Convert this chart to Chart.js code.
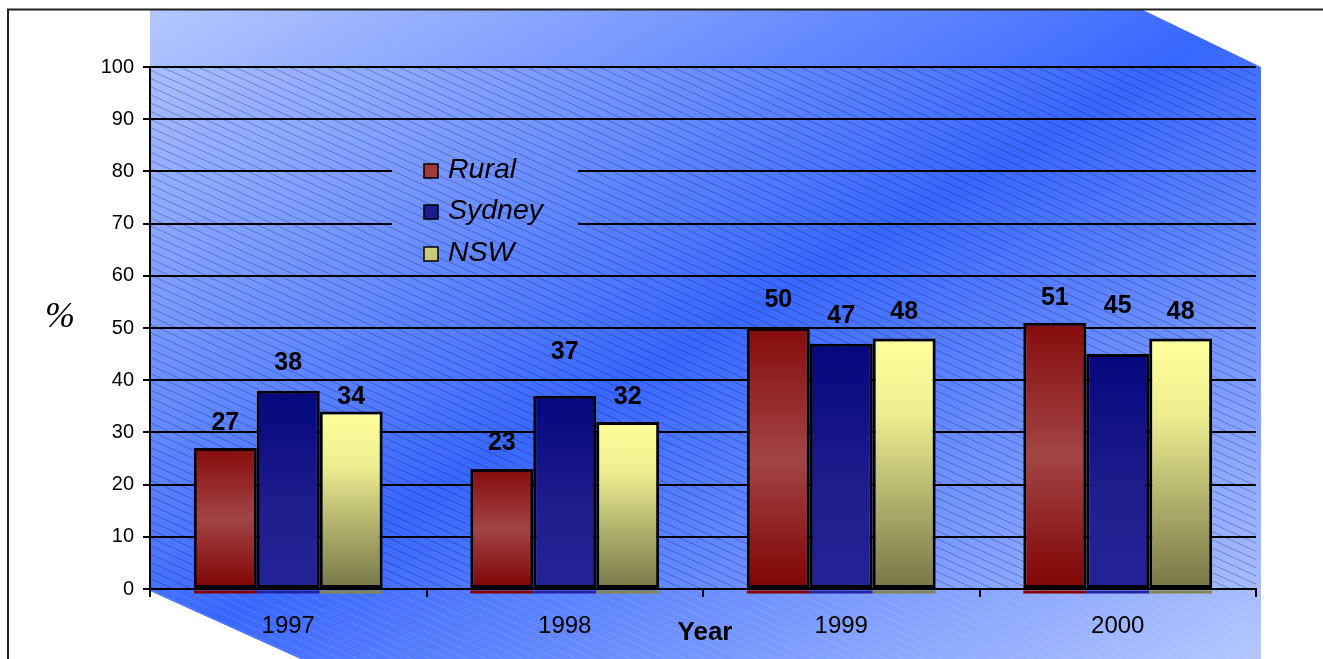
<!DOCTYPE html>
<html><head><meta charset="utf-8">
<script src="https://cdn.jsdelivr.net/npm/chart.js@4.4.1/dist/chart.umd.min.js"></script>
<style>html,body{margin:0;padding:0;background:#fff;}#wrap{width:1323px;height:659px;position:relative;overflow:hidden;}</style>
</head><body><div id="wrap"><canvas id="c" width="1323" height="659"></canvas></div>
<script>
// ---- data ----
const categories = ['1997', '1998', '1999', '2000'];
const seriesNames = ['Rural', 'Sydney', 'NSW'];
const rural  = [27, 23, 50, 51];
const sydney = [38, 37, 47, 45];
const nsw    = [34, 32, 48, 48];
const yMin = 0, yMax = 100, yStep = 10;
const xTitle = 'Year';
const yTitle = '%';

// ---- styling (not data) ----
const FONT = "'Liberation Sans', Arial, sans-serif";
const labelLift = [[25, 26, 28, 25], [28, 44, 28, 48], [14, 25, 26, 26]];
const barStops = [
  [[0, '#860c0c'], [0.5, '#a34444'], [1, '#800404']],
  [[0, '#06067e'], [0.6, '#1e1e8e'], [1, '#232396']],
  [[0, '#ffff9a'], [0.3, '#eeee90'], [0.65, '#b0b06c'], [1, '#777748']]
];
const stripColors = ['#8a0000', '#2323a8', '#85854f'];
const legendSwatch = ['#a33a3a', '#1c1c92', '#c9c97c'];

function barGradient(stops) {
  return (ctx) => {
    const chart = ctx.chart;
    const ys = chart.scales && chart.scales.y;
    if (!ys || ctx.type !== 'data') return stops[0][1];
    const top = ys.getPixelForValue(ctx.raw), bot = ys.getPixelForValue(0);
    if (!isFinite(top) || !isFinite(bot) || top === bot) return stops[0][1];
    const g = chart.ctx.createLinearGradient(0, top, 0, bot);
    stops.forEach(s => g.addColorStop(s[0], s[1]));
    return g;
  };
}

function paintBackdrop(chart) {
  const c = chart.ctx, a = chart.chartArea;
  const L = a.left, T = 10, R = a.right + 5, B = chart.height;
  const cut = 118, cutDrop = a.top - T;
  const fl = (B - a.bottom) / 0.465;
  c.save();
  c.beginPath();
  c.moveTo(L, T); c.lineTo(R - cut, T); c.lineTo(R, T + cutDrop); c.lineTo(R, B);
  c.lineTo(L + fl, B); c.lineTo(L, a.bottom + 2); c.closePath();
  const w = R - L, h = B - T, k = 2 * w * h / (w * w + h * h);
  const g = c.createLinearGradient(L, T, L + h * k, T + w * k);
  g.addColorStop(0, '#b4c7ff'); g.addColorStop(0.5, '#3867ff'); g.addColorStop(1, '#b4c7ff');
  c.fillStyle = g; c.fill();
  c.save(); c.clip();
  c.beginPath(); c.rect(L, a.bottom + 2, w, B - a.bottom); c.clip();
  c.strokeStyle = 'rgba(255,255,255,0.13)'; c.lineWidth = 1;
  hatch(c, L, a.bottom, w, B - a.bottom);
  c.restore();
  c.beginPath(); c.rect(a.left, a.top, a.right - a.left, a.bottom - a.top); c.clip();
  c.strokeStyle = 'rgba(10,20,80,0.3)'; c.lineWidth = 1;
  hatch(c, a.left, a.top, a.right - a.left, a.bottom - a.top);
  c.restore();
}
function hatch(c, x, y, w, h) {
  const slope = 0.45, sp = 8.2;
  c.beginPath();
  for (let off = -slope * w - sp; off < h + sp; off += sp) {
    c.moveTo(x, y + off + 0.5); c.lineTo(x + w, y + off + slope * w + 0.5);
  }
  c.stroke();
}
const legendRect = { x: 392, y: 135, w: 186, h: 128 };

const backdropPlugin = {
  id: 'backdrop',
  beforeDraw(chart) {
    const c = chart.ctx;
    c.save(); c.fillStyle = '#fff'; c.fillRect(0, 0, chart.width, chart.height); c.restore();
    paintBackdrop(chart);
  },
  beforeDatasetsDraw(chart) {
    const c = chart.ctx;
    c.save(); c.beginPath(); c.rect(legendRect.x, legendRect.y, legendRect.w, legendRect.h); c.clip();
    paintBackdrop(chart);
    c.restore();
  },
  afterDatasetsDraw(chart) {
    const c = chart.ctx, ys = chart.scales.y, base = ys.getPixelForValue(0);
    c.save();
    chart.data.datasets.forEach((ds, di) => {
      const meta = chart.getDatasetMeta(di);
      meta.data.forEach((el, i) => {
        c.fillStyle = stripColors[di];
        c.fillRect(el.x - el.width / 2, base + 1.5, el.width, 3);
        c.fillStyle = '#000';
        c.font = 'bold 25px ' + FONT;
        c.textAlign = 'center'; c.textBaseline = 'middle';
        c.fillText(String(ds.data[i]), el.x, el.y - labelLift[di][i]);
      });
    });
    c.restore();
  },
  afterDraw(chart) {
    const c = chart.ctx, a = chart.chartArea;
    c.save();
    c.font = 'italic 28.5px ' + FONT; c.textBaseline = 'middle'; c.textAlign = 'left';
    const lx = 424, ly = [171, 212, 254];
    chart.data.datasets.forEach((ds, di) => {
      c.fillStyle = legendSwatch[di];
      c.fillRect(lx, ly[di] - 7, 14, 14);
      c.strokeStyle = '#000'; c.lineWidth = 1.5;
      c.strokeRect(lx, ly[di] - 7, 14, 14);
      c.fillStyle = '#000';
      c.fillText(ds.label, lx + 24, ly[di] - 1);
    });
    c.textAlign = 'center';
    c.font = 'bold 26px ' + FONT;
    c.fillText(xTitle, (a.left + a.right) / 2 + 2, 633);
    c.font = "italic 36px 'Liberation Serif', 'Times New Roman', serif";
    c.fillText(yTitle, 60, 318);
    c.strokeStyle = '#222'; c.lineWidth = 2;
    c.beginPath(); c.moveTo(8, chart.height + 5); c.lineTo(8, 9.5); c.lineTo(chart.width + 5, 9.5); c.stroke();
    c.restore();
  }
};

const datasets = [rural, sydney, nsw].map((vals, i) => ({
  label: seriesNames[i],
  data: vals,
  backgroundColor: barGradient(barStops[i]),
  borderColor: '#000',
  borderWidth: 3,
  borderSkipped: false,
  categoryPercentage: 0.683,
  barPercentage: 1.0
}));

new Chart(document.getElementById('c'), {
  type: 'bar',
  data: { labels: categories, datasets },
  plugins: [backdropPlugin],
  options: {
    responsive: false,
    animation: false,
    devicePixelRatio: 1,
    layout: { padding: { left: 0, right: 67, top: 67, bottom: 0 } },
    plugins: { legend: { display: false }, tooltip: { enabled: false } },
    scales: {
      x: {
        afterFit: s => { s.height = 70; },
        grid: { display: true, drawOnChartArea: false, drawTicks: true, tickLength: 8, color: '#000', lineWidth: 2, offset: true },
        border: { display: true, color: '#000', width: 2 },
        ticks: { color: '#000', font: { family: FONT, size: 24 }, padding: 15, maxRotation: 0 }
      },
      y: {
        min: yMin, max: yMax,
        afterFit: s => { s.width = 150; },
        grid: { color: '#000', lineWidth: 2, drawTicks: true, tickLength: 7 },
        border: { display: true, color: '#000', width: 2 },
        ticks: { stepSize: yStep, color: '#000', font: { family: FONT, size: 20 }, padding: 9 }
      }
    }
  }
});
</script></body></html>
